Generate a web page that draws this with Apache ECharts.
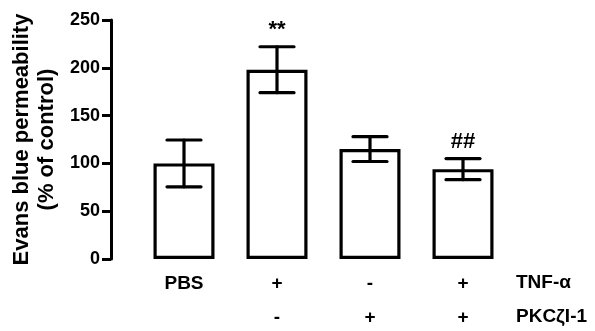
<!DOCTYPE html>
<html><head><meta charset="utf-8">
<script src="https://cdn.jsdelivr.net/npm/echarts@6/dist/echarts.min.js"></script>
<style>html,body{margin:0;padding:0;background:#fff}#c{width:595px;height:331px}</style>
</head><body><div id="c"></div>
<script>
const categories = ['PBS', 'TNF', 'PKCI', 'TNF+PKCI'];
const tnfRow = ['PBS', '+', '-', '+'];
const pkcRow = ['', '-', '+', '+'];
const rowNames = ['TNF-α', 'PKCζI-1'];
const means = [100, 198, 115, 94];
const errors = [24.5, 24, 13, 11];
const marks = ['', '**', '', '##'];
const yMin = 0, yMax = 250, yStep = 50;
const yTitle = 'Evans blue permeability\n(% of control)';

const FONT = '"Liberation Sans", Arial, sans-serif';
const chart = echarts.init(document.getElementById('c'), null, {renderer: 'canvas'});
chart.setOption({
  animation: false,
  backgroundColor: '#fff',
  grid: {left: 137.5, right: 85.5, top: 20, bottom: 72, containLabel: false, outerBoundsMode: 'none'},
  xAxis: {
    type: 'category', data: categories,
    axisLine: {show: false}, axisTick: {show: false},
    axisLabel: {
      interval: 0, margin: 8, color: '#000', fontFamily: FONT, fontWeight: 'bold', fontSize: 19, lineHeight: 34,
      formatter: (v, i) => tnfRow[i] + '\n' + pkcRow[i]
    }
  },
  yAxis: {
    type: 'value', min: yMin, max: yMax, interval: yStep, offset: 26.5,
    name: yTitle, nameLocation: 'middle', nameGap: 47,
    nameTextStyle: {color: '#000', fontFamily: FONT, fontWeight: 'bold', fontSize: 22, lineHeight: 25, align: 'center'},
    splitLine: {show: false},
    axisLine: {show: true, lineStyle: {color: '#000', width: 3}},
    axisTick: {show: true, length: 9, lineStyle: {color: '#000', width: 3}},
    axisLabel: {margin: 11, color: '#000', fontFamily: FONT, fontWeight: 'bold', fontSize: 18}
  },
  graphic: rowNames.map((t, k) => ({
    type: 'text', left: 516, top: 273 + k * 34,
    style: {text: t, fill: '#000', font: 'bold 19px ' + FONT}
  })),
  series: [
    {
      type: 'bar', data: means, barWidth: 61,
      itemStyle: {color: '#fff', borderColor: '#000', borderWidth: 3.2},
      z: 2
    },
    {
      type: 'custom', z: 3,
      data: means.map((m, i) => [i, m, errors[i]]),
      renderItem: function (params, api) {
        const i = api.value(0), m = api.value(1), e = api.value(2);
        const top = api.coord([i, m + e]);
        const bot = api.coord([i, m - e]);
        const half = 17;
        const st = {stroke: '#000', lineWidth: 3.2, lineCap: 'round'};
        const ch = [
          {type: 'line', shape: {x1: top[0], y1: top[1], x2: bot[0], y2: bot[1]}, style: st},
          {type: 'line', shape: {x1: top[0] - half, y1: top[1], x2: top[0] + half, y2: top[1]}, style: st},
          {type: 'line', shape: {x1: bot[0] - half, y1: bot[1], x2: bot[0] + half, y2: bot[1]}, style: st}
        ];
        const mk = marks[params.dataIndex];
        if (mk) ch.push({type: 'text', style: {text: mk, x: top[0], y: top[1] - 6, align: 'center', verticalAlign: 'bottom', fill: '#000', font: 'bold 22px ' + FONT}});
        return {type: 'group', children: ch};
      }
    }
  ]
});
</script></body></html>
